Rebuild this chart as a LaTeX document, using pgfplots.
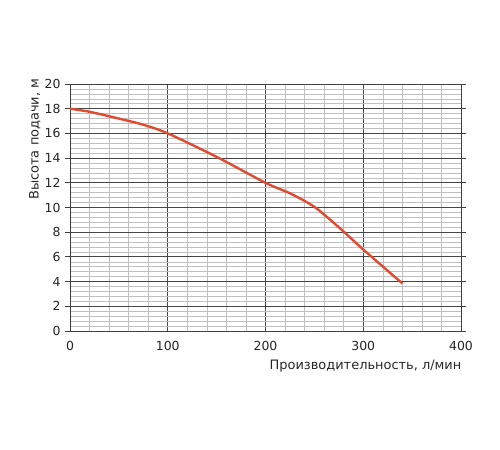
\documentclass[border=0pt]{standalone}
\usepackage{pgfplots}
\pgfplotsset{compat=1.18}
\usepackage{fontspec}
\setmainfont{DejaVu Sans}
\definecolor{curve}{HTML}{E04A2F}
\begin{document}
\begin{tikzpicture}
\path[use as bounding box] (0,0) rectangle (500bp,450bp);
\begin{axis}[
  at={(70bp,119bp)}, anchor=south west,
  scale only axis, width=391bp, height=247bp,
  xmin=0, xmax=400, ymin=0, ymax=20,
  xtick={0,100,...,400}, ytick={0,2,...,20},
  minor x tick num=4, minor y tick num=4,
  grid=both,
  major grid style={draw=black!72, line width=0.8pt},
  minor grid style={draw=black!25, line width=0.6pt},
  axis line style={draw=black!75, line width=0.8pt},
  tick style={draw=black!75, line width=0.8pt},
  tick align=outside, major tick length=5bp, minor tick length=0pt,
  xtick style={draw=none},
  /pgf/number format/assume math mode=true,
  tick label style={font=\fontsize{12.5}{14}\selectfont, text=black!85},
  yticklabel style={xshift=-1bp},
  xticklabel style={yshift=-2bp},
  label style={font=\fontsize{13}{15}\selectfont, text=black!85},
  xlabel={Производительность, л/мин},
  xlabel style={at={(axis description cs:1.01,-0.142)}, anchor=east},
  ylabel={Высота подачи, м},
  ylabel style={at={(axis description cs:-0.09,1.036)}, anchor=east},
]
\addplot[color=curve, line width=2.4pt, smooth, tension=0.5] coordinates {
(0,18) (20,17.75) (50,17.2) (75,16.7) (100,16) (150,14.1) (200,12) (225,11.15) (250,10.05) (275,8.4) (300,6.6) (340,3.85)
};
\end{axis}
\end{tikzpicture}
\end{document}
